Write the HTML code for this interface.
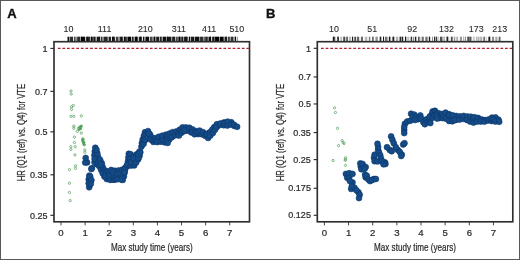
<!DOCTYPE html>
<html><head><meta charset="utf-8"><style>
html,body{margin:0;padding:0;background:#fff;}
svg{display:block;will-change:transform;}
text{font-family:"Liberation Sans",sans-serif;fill:#2a2a2a;stroke:#2a2a2a;stroke-width:0.22px;}
.pl{font-size:13px;font-weight:bold;fill:#111;stroke:#111;stroke-width:0.35px;}
.rl{font-size:8.9px;stroke-width:0.1px;}
.yl{font-size:9px;}
.xl{font-size:9.6px;}
.at{font-size:10.7px;}
</style></head><body>
<svg width="520" height="260" viewBox="0 0 520 260">
<rect x="0" y="0" width="520" height="260" fill="#fff"/>
<rect x="0.5" y="0.5" width="519" height="259" fill="none" stroke="#585858" stroke-width="1"/>
<text x="7.3" y="17.9" class="pl">A</text>
<text x="265.9" y="17.9" class="pl">B</text>
<rect x="67.50" y="36.7" width="1.90" height="4.6" fill="#000" fill-opacity="0.95"/>
<rect x="70.03" y="36.7" width="2.99" height="4.6" fill="#000" fill-opacity="0.83"/>
<rect x="73.91" y="36.7" width="1.78" height="4.6" fill="#000" fill-opacity="0.71"/>
<rect x="76.41" y="36.7" width="3.79" height="4.6" fill="#000" fill-opacity="0.70"/>
<rect x="78.56" y="36.7" width="0.80" height="4.6" fill="#000" fill-opacity="1.00"/>
<rect x="80.81" y="36.7" width="4.34" height="4.6" fill="#000" fill-opacity="0.97"/>
<rect x="80.90" y="36.7" width="0.80" height="4.6" fill="#000" fill-opacity="1.00"/>
<rect x="85.92" y="36.7" width="4.32" height="4.6" fill="#000" fill-opacity="0.81"/>
<rect x="87.40" y="36.7" width="0.80" height="4.6" fill="#000" fill-opacity="1.00"/>
<rect x="90.75" y="36.7" width="2.17" height="4.6" fill="#000" fill-opacity="0.83"/>
<rect x="91.07" y="36.7" width="0.80" height="4.6" fill="#000" fill-opacity="1.00"/>
<rect x="93.53" y="36.7" width="2.16" height="4.6" fill="#000" fill-opacity="0.84"/>
<rect x="93.56" y="36.7" width="0.80" height="4.6" fill="#000" fill-opacity="1.00"/>
<rect x="96.60" y="36.7" width="3.17" height="4.6" fill="#000" fill-opacity="0.89"/>
<rect x="98.96" y="36.7" width="0.80" height="4.6" fill="#000" fill-opacity="1.00"/>
<rect x="100.70" y="36.7" width="1.86" height="4.6" fill="#000" fill-opacity="0.80"/>
<rect x="103.42" y="36.7" width="4.31" height="4.6" fill="#000" fill-opacity="0.83"/>
<rect x="108.57" y="36.7" width="2.41" height="4.6" fill="#000" fill-opacity="0.88"/>
<rect x="111.90" y="36.7" width="3.02" height="4.6" fill="#000" fill-opacity="0.88"/>
<rect x="112.44" y="36.7" width="0.80" height="4.6" fill="#000" fill-opacity="1.00"/>
<rect x="115.81" y="36.7" width="2.74" height="4.6" fill="#000" fill-opacity="0.75"/>
<rect x="119.41" y="36.7" width="3.52" height="4.6" fill="#000" fill-opacity="0.81"/>
<rect x="120.79" y="36.7" width="0.80" height="4.6" fill="#000" fill-opacity="1.00"/>
<rect x="123.82" y="36.7" width="3.06" height="4.6" fill="#000" fill-opacity="0.82"/>
<rect x="123.89" y="36.7" width="0.80" height="4.6" fill="#000" fill-opacity="1.00"/>
<rect x="127.41" y="36.7" width="3.61" height="4.6" fill="#000" fill-opacity="0.99"/>
<rect x="131.71" y="36.7" width="2.01" height="4.6" fill="#000" fill-opacity="0.85"/>
<rect x="134.61" y="36.7" width="3.12" height="4.6" fill="#000" fill-opacity="0.96"/>
<rect x="135.80" y="36.7" width="0.80" height="4.6" fill="#000" fill-opacity="1.00"/>
<rect x="138.70" y="36.7" width="3.23" height="4.6" fill="#000" fill-opacity="0.84"/>
<rect x="140.04" y="36.7" width="0.80" height="4.6" fill="#000" fill-opacity="1.00"/>
<rect x="142.92" y="36.7" width="1.52" height="4.6" fill="#000" fill-opacity="0.94"/>
<rect x="145.38" y="36.7" width="3.72" height="4.6" fill="#000" fill-opacity="0.94"/>
<rect x="149.88" y="36.7" width="2.78" height="4.6" fill="#000" fill-opacity="0.72"/>
<rect x="153.44" y="36.7" width="2.10" height="4.6" fill="#000" fill-opacity="0.85"/>
<rect x="153.91" y="36.7" width="0.80" height="4.6" fill="#000" fill-opacity="1.00"/>
<rect x="156.21" y="36.7" width="3.12" height="4.6" fill="#000" fill-opacity="0.89"/>
<rect x="160.06" y="36.7" width="1.58" height="4.6" fill="#000" fill-opacity="0.77"/>
<rect x="160.52" y="36.7" width="0.80" height="4.6" fill="#000" fill-opacity="1.00"/>
<rect x="162.57" y="36.7" width="3.90" height="4.6" fill="#000" fill-opacity="0.94"/>
<rect x="167.10" y="36.7" width="4.03" height="4.6" fill="#000" fill-opacity="0.90"/>
<rect x="167.15" y="36.7" width="0.80" height="4.6" fill="#000" fill-opacity="1.00"/>
<rect x="171.63" y="36.7" width="3.77" height="4.6" fill="#000" fill-opacity="0.77"/>
<rect x="173.48" y="36.7" width="0.80" height="4.6" fill="#000" fill-opacity="1.00"/>
<rect x="176.07" y="36.7" width="1.71" height="4.6" fill="#000" fill-opacity="0.75"/>
<rect x="178.36" y="36.7" width="2.32" height="4.6" fill="#000" fill-opacity="0.91"/>
<rect x="178.85" y="36.7" width="0.80" height="4.6" fill="#000" fill-opacity="1.00"/>
<rect x="181.42" y="36.7" width="1.57" height="4.6" fill="#000" fill-opacity="0.82"/>
<rect x="181.56" y="36.7" width="0.80" height="4.6" fill="#000" fill-opacity="1.00"/>
<rect x="183.54" y="36.7" width="4.20" height="4.6" fill="#000" fill-opacity="0.85"/>
<rect x="185.60" y="36.7" width="0.80" height="4.6" fill="#000" fill-opacity="1.00"/>
<rect x="188.65" y="36.7" width="1.56" height="4.6" fill="#000" fill-opacity="0.71"/>
<rect x="189.20" y="36.7" width="0.80" height="4.6" fill="#000" fill-opacity="1.00"/>
<rect x="190.79" y="36.7" width="3.61" height="4.6" fill="#000" fill-opacity="0.90"/>
<rect x="195.02" y="36.7" width="4.43" height="4.6" fill="#000" fill-opacity="0.94"/>
<rect x="200.05" y="36.7" width="3.45" height="4.6" fill="#000" fill-opacity="0.82"/>
<rect x="204.16" y="36.7" width="3.39" height="4.6" fill="#000" fill-opacity="0.72"/>
<rect x="206.67" y="36.7" width="0.80" height="4.6" fill="#000" fill-opacity="1.00"/>
<rect x="208.49" y="36.7" width="2.42" height="4.6" fill="#000" fill-opacity="0.96"/>
<rect x="210.01" y="36.7" width="0.80" height="4.6" fill="#000" fill-opacity="1.00"/>
<rect x="211.78" y="36.7" width="2.75" height="4.6" fill="#000" fill-opacity="0.78"/>
<rect x="213.49" y="36.7" width="0.80" height="4.6" fill="#000" fill-opacity="1.00"/>
<rect x="215.05" y="36.7" width="3.96" height="4.6" fill="#000" fill-opacity="0.99"/>
<rect x="219.59" y="36.7" width="4.10" height="4.6" fill="#000" fill-opacity="0.99"/>
<rect x="224.45" y="36.7" width="2.63" height="4.6" fill="#000" fill-opacity="0.80"/>
<rect x="225.69" y="36.7" width="0.80" height="4.6" fill="#000" fill-opacity="1.00"/>
<rect x="227.80" y="36.7" width="2.08" height="4.6" fill="#000" fill-opacity="0.73"/>
<rect x="230.53" y="36.7" width="3.00" height="4.6" fill="#000" fill-opacity="0.80"/>
<rect x="234.48" y="36.7" width="1.55" height="4.6" fill="#000" fill-opacity="0.76"/>
<rect x="235.23" y="36.7" width="0.80" height="4.6" fill="#000" fill-opacity="1.00"/>
<rect x="236.93" y="36.7" width="0.57" height="4.6" fill="#000" fill-opacity="0.76"/>
<text x="68.4" y="31.5" class="rl" text-anchor="middle">10</text>
<text x="104.6" y="31.5" class="rl" text-anchor="middle">111</text>
<text x="145.3" y="31.5" class="rl" text-anchor="middle">210</text>
<text x="178.9" y="31.5" class="rl" text-anchor="middle">311</text>
<text x="209.2" y="31.5" class="rl" text-anchor="middle">411</text>
<text x="236.8" y="31.5" class="rl" text-anchor="middle">510</text>
<path d="M246.45 48.4H248.80M241.85 48.4H244.55M237.25 48.4H239.95M232.65 48.4H235.35M228.05 48.4H230.75M223.45 48.4H226.15M218.85 48.4H221.55M214.25 48.4H216.95M209.65 48.4H212.35M205.05 48.4H207.75M200.45 48.4H203.15M195.85 48.4H198.55M191.25 48.4H193.95M186.65 48.4H189.35M182.05 48.4H184.75M177.45 48.4H180.15M172.85 48.4H175.55M168.25 48.4H170.95M163.65 48.4H166.35M159.05 48.4H161.75M154.45 48.4H157.15M149.85 48.4H152.55M145.25 48.4H147.95M140.65 48.4H143.35M136.05 48.4H138.75M131.45 48.4H134.15M126.85 48.4H129.55M122.25 48.4H124.95M117.65 48.4H120.35M113.05 48.4H115.75M108.45 48.4H111.15M103.85 48.4H106.55M99.25 48.4H101.95M94.65 48.4H97.35M90.05 48.4H92.75M85.45 48.4H88.15M80.85 48.4H83.55M76.25 48.4H78.95M71.65 48.4H74.35M67.05 48.4H69.75M62.45 48.4H65.15M57.85 48.4H60.55" stroke="#b01e2e" stroke-width="1.15" fill="none"/>
<line x1="50.4" y1="48.40" x2="54.0" y2="48.40" stroke="#222" stroke-width="1.1"/>
<text x="47.6" y="51.60" class="yl" text-anchor="end">1</text>
<line x1="50.4" y1="91.34" x2="54.0" y2="91.34" stroke="#222" stroke-width="1.1"/>
<text x="47.6" y="94.54" class="yl" text-anchor="end">0.7</text>
<line x1="50.4" y1="131.85" x2="54.0" y2="131.85" stroke="#222" stroke-width="1.1"/>
<text x="47.6" y="135.05" class="yl" text-anchor="end">0.5</text>
<line x1="50.4" y1="174.80" x2="54.0" y2="174.80" stroke="#222" stroke-width="1.1"/>
<text x="47.6" y="178.00" class="yl" text-anchor="end">0.35</text>
<line x1="50.4" y1="215.31" x2="54.0" y2="215.31" stroke="#222" stroke-width="1.1"/>
<text x="47.6" y="218.51" class="yl" text-anchor="end">0.25</text>
<line x1="61.00" y1="221.8" x2="61.00" y2="225.4" stroke="#333" stroke-width="0.9"/>
<text x="61.00" y="236.1" class="xl" text-anchor="middle">0</text>
<line x1="85.10" y1="221.8" x2="85.10" y2="225.4" stroke="#333" stroke-width="0.9"/>
<text x="85.10" y="236.1" class="xl" text-anchor="middle">1</text>
<line x1="109.20" y1="221.8" x2="109.20" y2="225.4" stroke="#333" stroke-width="0.9"/>
<text x="109.20" y="236.1" class="xl" text-anchor="middle">2</text>
<line x1="133.30" y1="221.8" x2="133.30" y2="225.4" stroke="#333" stroke-width="0.9"/>
<text x="133.30" y="236.1" class="xl" text-anchor="middle">3</text>
<line x1="157.40" y1="221.8" x2="157.40" y2="225.4" stroke="#333" stroke-width="0.9"/>
<text x="157.40" y="236.1" class="xl" text-anchor="middle">4</text>
<line x1="181.50" y1="221.8" x2="181.50" y2="225.4" stroke="#333" stroke-width="0.9"/>
<text x="181.50" y="236.1" class="xl" text-anchor="middle">5</text>
<line x1="205.60" y1="221.8" x2="205.60" y2="225.4" stroke="#333" stroke-width="0.9"/>
<text x="205.60" y="236.1" class="xl" text-anchor="middle">6</text>
<line x1="229.70" y1="221.8" x2="229.70" y2="225.4" stroke="#333" stroke-width="0.9"/>
<text x="229.70" y="236.1" class="xl" text-anchor="middle">7</text>
<rect x="54.0" y="41.7" width="195.5" height="180.10000000000002" fill="none" stroke="#2e2e2e" stroke-width="1.65"/>
<text x="151.8" y="250.9" class="at" text-anchor="middle" textLength="81.8" lengthAdjust="spacingAndGlyphs">Max study time (years)</text>
<text transform="translate(24.7,132.6) rotate(-90)" x="0" y="0" class="at" text-anchor="middle" textLength="97.4" lengthAdjust="spacingAndGlyphs">HR (Q1 (ref) vs. Q4) for VTE</text>
<rect x="332.80" y="36.7" width="2.52" height="4.6" fill="#000" fill-opacity="0.67"/>
<rect x="332.95" y="36.7" width="0.80" height="4.6" fill="#000" fill-opacity="1.00"/>
<rect x="336.92" y="36.7" width="2.10" height="4.6" fill="#000" fill-opacity="0.53"/>
<rect x="337.71" y="36.7" width="0.80" height="4.6" fill="#000" fill-opacity="1.00"/>
<rect x="340.35" y="36.7" width="1.80" height="4.6" fill="#000" fill-opacity="0.28"/>
<rect x="343.22" y="36.7" width="2.07" height="4.6" fill="#000" fill-opacity="0.70"/>
<rect x="346.55" y="36.7" width="1.55" height="4.6" fill="#000" fill-opacity="0.33"/>
<rect x="346.57" y="36.7" width="0.80" height="4.6" fill="#000" fill-opacity="1.00"/>
<rect x="349.25" y="36.7" width="1.31" height="4.6" fill="#000" fill-opacity="0.39"/>
<rect x="351.79" y="36.7" width="1.76" height="4.6" fill="#000" fill-opacity="0.32"/>
<rect x="352.10" y="36.7" width="0.80" height="4.6" fill="#000" fill-opacity="1.00"/>
<rect x="354.32" y="36.7" width="1.67" height="4.6" fill="#000" fill-opacity="0.70"/>
<rect x="356.80" y="36.7" width="2.40" height="4.6" fill="#000" fill-opacity="0.60"/>
<rect x="360.89" y="36.7" width="2.15" height="4.6" fill="#000" fill-opacity="0.59"/>
<rect x="364.82" y="36.7" width="2.53" height="4.6" fill="#000" fill-opacity="0.28"/>
<rect x="368.80" y="36.7" width="1.58" height="4.6" fill="#000" fill-opacity="0.47"/>
<rect x="372.09" y="36.7" width="1.65" height="4.6" fill="#000" fill-opacity="0.62"/>
<rect x="375.40" y="36.7" width="2.41" height="4.6" fill="#000" fill-opacity="0.43"/>
<rect x="379.51" y="36.7" width="2.08" height="4.6" fill="#000" fill-opacity="0.44"/>
<rect x="379.93" y="36.7" width="0.80" height="4.6" fill="#000" fill-opacity="1.00"/>
<rect x="383.03" y="36.7" width="1.02" height="4.6" fill="#000" fill-opacity="0.65"/>
<rect x="383.23" y="36.7" width="0.80" height="4.6" fill="#000" fill-opacity="1.00"/>
<rect x="385.02" y="36.7" width="2.52" height="4.6" fill="#000" fill-opacity="0.55"/>
<rect x="388.76" y="36.7" width="1.94" height="4.6" fill="#000" fill-opacity="0.49"/>
<rect x="388.99" y="36.7" width="0.80" height="4.6" fill="#000" fill-opacity="1.00"/>
<rect x="391.91" y="36.7" width="2.47" height="4.6" fill="#000" fill-opacity="0.51"/>
<rect x="393.28" y="36.7" width="0.80" height="4.6" fill="#000" fill-opacity="1.00"/>
<rect x="395.85" y="36.7" width="2.42" height="4.6" fill="#000" fill-opacity="0.30"/>
<rect x="398.95" y="36.7" width="1.94" height="4.6" fill="#000" fill-opacity="0.34"/>
<rect x="399.95" y="36.7" width="0.80" height="4.6" fill="#000" fill-opacity="1.00"/>
<rect x="401.62" y="36.7" width="1.69" height="4.6" fill="#000" fill-opacity="0.63"/>
<rect x="401.80" y="36.7" width="0.80" height="4.6" fill="#000" fill-opacity="1.00"/>
<rect x="404.97" y="36.7" width="1.50" height="4.6" fill="#000" fill-opacity="0.56"/>
<rect x="405.22" y="36.7" width="0.80" height="4.6" fill="#000" fill-opacity="1.00"/>
<rect x="407.28" y="36.7" width="1.98" height="4.6" fill="#000" fill-opacity="0.24"/>
<rect x="409.88" y="36.7" width="2.09" height="4.6" fill="#000" fill-opacity="0.21"/>
<rect x="410.93" y="36.7" width="0.80" height="4.6" fill="#000" fill-opacity="1.00"/>
<rect x="412.76" y="36.7" width="1.05" height="4.6" fill="#000" fill-opacity="0.55"/>
<rect x="414.46" y="36.7" width="2.58" height="4.6" fill="#000" fill-opacity="0.28"/>
<rect x="415.07" y="36.7" width="0.80" height="4.6" fill="#000" fill-opacity="1.00"/>
<rect x="418.38" y="36.7" width="2.11" height="4.6" fill="#000" fill-opacity="0.26"/>
<rect x="418.42" y="36.7" width="0.80" height="4.6" fill="#000" fill-opacity="1.00"/>
<rect x="421.63" y="36.7" width="2.16" height="4.6" fill="#000" fill-opacity="0.57"/>
<rect x="425.29" y="36.7" width="2.34" height="4.6" fill="#000" fill-opacity="0.55"/>
<rect x="428.50" y="36.7" width="1.96" height="4.6" fill="#000" fill-opacity="0.36"/>
<rect x="429.02" y="36.7" width="0.80" height="4.6" fill="#000" fill-opacity="1.00"/>
<rect x="432.11" y="36.7" width="0.94" height="4.6" fill="#000" fill-opacity="0.49"/>
<rect x="434.27" y="36.7" width="0.97" height="4.6" fill="#000" fill-opacity="0.68"/>
<rect x="434.37" y="36.7" width="0.80" height="4.6" fill="#000" fill-opacity="1.00"/>
<rect x="436.34" y="36.7" width="0.73" height="4.6" fill="#000" fill-opacity="0.48"/>
<rect x="436.34" y="36.7" width="0.73" height="4.6" fill="#000" fill-opacity="1.00"/>
<rect x="437.72" y="36.7" width="1.01" height="4.6" fill="#000" fill-opacity="0.25"/>
<rect x="439.93" y="36.7" width="2.57" height="4.6" fill="#000" fill-opacity="0.67"/>
<rect x="443.38" y="36.7" width="1.54" height="4.6" fill="#000" fill-opacity="0.33"/>
<rect x="446.27" y="36.7" width="2.22" height="4.6" fill="#000" fill-opacity="0.55"/>
<rect x="446.88" y="36.7" width="0.80" height="4.6" fill="#000" fill-opacity="1.00"/>
<rect x="449.73" y="36.7" width="0.71" height="4.6" fill="#000" fill-opacity="0.22"/>
<rect x="451.17" y="36.7" width="2.08" height="4.6" fill="#000" fill-opacity="0.32"/>
<rect x="451.40" y="36.7" width="0.80" height="4.6" fill="#000" fill-opacity="1.00"/>
<rect x="454.12" y="36.7" width="1.11" height="4.6" fill="#000" fill-opacity="0.46"/>
<rect x="456.21" y="36.7" width="1.92" height="4.6" fill="#000" fill-opacity="0.31"/>
<rect x="459.88" y="36.7" width="2.08" height="4.6" fill="#000" fill-opacity="0.42"/>
<rect x="463.26" y="36.7" width="0.80" height="4.6" fill="#000" fill-opacity="0.41"/>
<rect x="464.88" y="36.7" width="0.88" height="4.6" fill="#000" fill-opacity="0.60"/>
<rect x="466.98" y="36.7" width="2.45" height="4.6" fill="#000" fill-opacity="0.51"/>
<rect x="468.60" y="36.7" width="0.80" height="4.6" fill="#000" fill-opacity="1.00"/>
<rect x="470.48" y="36.7" width="0.74" height="4.6" fill="#000" fill-opacity="0.54"/>
<rect x="470.48" y="36.7" width="0.74" height="4.6" fill="#000" fill-opacity="1.00"/>
<rect x="472.82" y="36.7" width="1.98" height="4.6" fill="#000" fill-opacity="0.21"/>
<rect x="475.89" y="36.7" width="1.62" height="4.6" fill="#000" fill-opacity="0.30"/>
<rect x="478.20" y="36.7" width="1.24" height="4.6" fill="#000" fill-opacity="0.39"/>
<rect x="480.14" y="36.7" width="2.13" height="4.6" fill="#000" fill-opacity="0.30"/>
<rect x="483.34" y="36.7" width="1.58" height="4.6" fill="#000" fill-opacity="0.58"/>
<rect x="485.67" y="36.7" width="0.93" height="4.6" fill="#000" fill-opacity="0.24"/>
<rect x="487.97" y="36.7" width="2.52" height="4.6" fill="#000" fill-opacity="0.55"/>
<rect x="489.10" y="36.7" width="0.80" height="4.6" fill="#000" fill-opacity="1.00"/>
<rect x="492.02" y="36.7" width="2.07" height="4.6" fill="#000" fill-opacity="0.45"/>
<rect x="495.25" y="36.7" width="2.22" height="4.6" fill="#000" fill-opacity="0.33"/>
<rect x="498.64" y="36.7" width="1.86" height="4.6" fill="#000" fill-opacity="0.60"/>
<text x="334" y="31.5" class="rl" text-anchor="middle">10</text>
<text x="372.3" y="31.5" class="rl" text-anchor="middle">51</text>
<text x="412.3" y="31.5" class="rl" text-anchor="middle">92</text>
<text x="446.5" y="31.5" class="rl" text-anchor="middle">132</text>
<text x="476.2" y="31.5" class="rl" text-anchor="middle">173</text>
<text x="499.7" y="31.5" class="rl" text-anchor="middle">213</text>
<path d="M509.65 48.3H512.10M505.05 48.3H507.75M500.45 48.3H503.15M495.85 48.3H498.55M491.25 48.3H493.95M486.65 48.3H489.35M482.05 48.3H484.75M477.45 48.3H480.15M472.85 48.3H475.55M468.25 48.3H470.95M463.65 48.3H466.35M459.05 48.3H461.75M454.45 48.3H457.15M449.85 48.3H452.55M445.25 48.3H447.95M440.65 48.3H443.35M436.05 48.3H438.75M431.45 48.3H434.15M426.85 48.3H429.55M422.25 48.3H424.95M417.65 48.3H420.35M413.05 48.3H415.75M408.45 48.3H411.15M403.85 48.3H406.55M399.25 48.3H401.95M394.65 48.3H397.35M390.05 48.3H392.75M385.45 48.3H388.15M380.85 48.3H383.55M376.25 48.3H378.95M371.65 48.3H374.35M367.05 48.3H369.75M362.45 48.3H365.15M357.85 48.3H360.55M353.25 48.3H355.95M348.65 48.3H351.35M344.05 48.3H346.75M339.45 48.3H342.15M334.85 48.3H337.55M330.25 48.3H332.95M325.65 48.3H328.35M321.05 48.3H323.75" stroke="#b01e2e" stroke-width="1.15" fill="none"/>
<line x1="313.7" y1="48.30" x2="317.3" y2="48.30" stroke="#222" stroke-width="1.1"/>
<text x="310.90000000000003" y="51.50" class="yl" text-anchor="end">1</text>
<line x1="313.7" y1="76.94" x2="317.3" y2="76.94" stroke="#222" stroke-width="1.1"/>
<text x="310.90000000000003" y="80.14" class="yl" text-anchor="end">0.7</text>
<line x1="313.7" y1="103.96" x2="317.3" y2="103.96" stroke="#222" stroke-width="1.1"/>
<text x="310.90000000000003" y="107.16" class="yl" text-anchor="end">0.5</text>
<line x1="313.7" y1="132.60" x2="317.3" y2="132.60" stroke="#222" stroke-width="1.1"/>
<text x="310.90000000000003" y="135.80" class="yl" text-anchor="end">0.35</text>
<line x1="313.7" y1="159.62" x2="317.3" y2="159.62" stroke="#222" stroke-width="1.1"/>
<text x="310.90000000000003" y="162.82" class="yl" text-anchor="end">0.25</text>
<line x1="313.7" y1="188.26" x2="317.3" y2="188.26" stroke="#222" stroke-width="1.1"/>
<text x="310.90000000000003" y="191.46" class="yl" text-anchor="end">0.175</text>
<line x1="313.7" y1="215.28" x2="317.3" y2="215.28" stroke="#222" stroke-width="1.1"/>
<text x="310.90000000000003" y="218.48" class="yl" text-anchor="end">0.125</text>
<line x1="324.40" y1="221.8" x2="324.40" y2="225.4" stroke="#333" stroke-width="0.9"/>
<text x="324.40" y="236.1" class="xl" text-anchor="middle">0</text>
<line x1="348.55" y1="221.8" x2="348.55" y2="225.4" stroke="#333" stroke-width="0.9"/>
<text x="348.55" y="236.1" class="xl" text-anchor="middle">1</text>
<line x1="372.70" y1="221.8" x2="372.70" y2="225.4" stroke="#333" stroke-width="0.9"/>
<text x="372.70" y="236.1" class="xl" text-anchor="middle">2</text>
<line x1="396.85" y1="221.8" x2="396.85" y2="225.4" stroke="#333" stroke-width="0.9"/>
<text x="396.85" y="236.1" class="xl" text-anchor="middle">3</text>
<line x1="421.00" y1="221.8" x2="421.00" y2="225.4" stroke="#333" stroke-width="0.9"/>
<text x="421.00" y="236.1" class="xl" text-anchor="middle">4</text>
<line x1="445.15" y1="221.8" x2="445.15" y2="225.4" stroke="#333" stroke-width="0.9"/>
<text x="445.15" y="236.1" class="xl" text-anchor="middle">5</text>
<line x1="469.30" y1="221.8" x2="469.30" y2="225.4" stroke="#333" stroke-width="0.9"/>
<text x="469.30" y="236.1" class="xl" text-anchor="middle">6</text>
<line x1="493.45" y1="221.8" x2="493.45" y2="225.4" stroke="#333" stroke-width="0.9"/>
<text x="493.45" y="236.1" class="xl" text-anchor="middle">7</text>
<rect x="317.3" y="41.7" width="195.49999999999994" height="180.10000000000002" fill="none" stroke="#2e2e2e" stroke-width="1.65"/>
<text x="415.0" y="250.9" class="at" text-anchor="middle" textLength="81.8" lengthAdjust="spacingAndGlyphs">Max study time (years)</text>
<text transform="translate(283.8,132.6) rotate(-90)" x="0" y="0" class="at" text-anchor="middle" textLength="97.4" lengthAdjust="spacingAndGlyphs">HR (Q1 (ref) vs. Q4) for VTE</text>
<g fill="#3f9f4a" fill-opacity="0.85"><circle cx="79.6" cy="127.6" r="1.45"/><circle cx="80.6" cy="128.8" r="1.45"/><circle cx="81.0" cy="126.4" r="1.45"/><circle cx="79.2" cy="129.6" r="1.45"/><circle cx="82.9" cy="141.2" r="1.45"/><circle cx="83.6" cy="143.0" r="1.45"/><circle cx="84.1" cy="144.6" r="1.45"/><circle cx="82.6" cy="140.0" r="1.45"/></g>
<g fill="none" stroke="#58a05e" stroke-width="0.75"><circle cx="71.0" cy="91.0" r="1.15"/><circle cx="71.2" cy="94.0" r="1.15"/><circle cx="73.3" cy="105.5" r="1.15"/><circle cx="71.5" cy="106.9" r="1.15"/><circle cx="71.5" cy="109.5" r="1.15"/><circle cx="71.0" cy="116.3" r="1.15"/><circle cx="73.8" cy="116.3" r="1.15"/><circle cx="81.3" cy="115.8" r="1.15"/><circle cx="73.8" cy="126.1" r="1.15"/><circle cx="73.8" cy="128.2" r="1.15"/><circle cx="78.5" cy="128.5" r="1.15"/><circle cx="79.6" cy="127.3" r="1.15"/><circle cx="81.3" cy="126.1" r="1.15"/><circle cx="77.3" cy="131.3" r="1.15"/><circle cx="81.3" cy="133.1" r="1.15"/><circle cx="74.4" cy="137.1" r="1.15"/><circle cx="83.0" cy="138.8" r="1.15"/><circle cx="74.4" cy="142.5" r="1.15"/><circle cx="70.8" cy="146.7" r="1.15"/><circle cx="70.8" cy="149.5" r="1.15"/><circle cx="75.2" cy="146.7" r="1.15"/><circle cx="74.9" cy="154.9" r="1.15"/><circle cx="83.0" cy="139.6" r="1.15"/><circle cx="83.6" cy="142.5" r="1.15"/><circle cx="84.2" cy="144.8" r="1.15"/><circle cx="84.8" cy="150.0" r="1.15"/><circle cx="84.8" cy="152.3" r="1.15"/><circle cx="69.4" cy="169.6" r="1.15"/><circle cx="75.5" cy="165.8" r="1.15"/><circle cx="75.5" cy="168.4" r="1.15"/><circle cx="69.4" cy="183.2" r="1.15"/><circle cx="69.4" cy="192.5" r="1.15"/><circle cx="70.2" cy="200.6" r="1.15"/><circle cx="83.8" cy="142.4" r="1.15"/><circle cx="334.5" cy="107.8" r="1.15"/><circle cx="335.4" cy="112.5" r="1.15"/><circle cx="337.5" cy="128.3" r="1.15"/><circle cx="342.1" cy="140.6" r="1.15"/><circle cx="343.2" cy="142.5" r="1.15"/><circle cx="344.0" cy="143.6" r="1.15"/><circle cx="338.6" cy="145.6" r="1.15"/><circle cx="345.5" cy="157.7" r="1.15"/><circle cx="345.5" cy="159.4" r="1.15"/><circle cx="333.1" cy="160.5" r="1.15"/><circle cx="345.2" cy="160.2" r="1.15"/><circle cx="345.5" cy="165.4" r="1.15"/></g>
<path fill="#154c88" d="M85.8 159.1 L85.6 161.7 L85.9 163.4 L86.1 163.7 L86.5 162.5 L86.5 160.7 L85.9 159.1 L85.8 159.1ZM89.4 185.0 L89.7 184.4 L89.7 184.4 L89.8 184.1 L89.8 184.1 L90.0 183.8 L90.0 183.8 L91.3 181.8 L89.6 176.6 L89.1 181.1 L89.4 185.0ZM142.3 144.6 L143.0 143.7 L143.8 141.6 L144.4 139.8 L144.4 139.8 L144.5 139.5 L144.5 139.5 L144.6 139.2 L144.7 139.1 L144.8 138.9 L144.9 138.8 L145.0 138.6 L145.1 138.6 L145.3 138.3 L145.3 138.3 L145.5 138.1 L145.6 138.1 L145.8 137.9 L145.9 137.9 L146.1 137.7 L146.2 137.7 L146.5 137.6 L146.5 137.5 L146.8 137.4 L146.8 137.4 L147.1 137.4 L147.2 137.4 L147.5 137.3 L147.5 137.3 L147.8 137.3 L147.9 137.3 L148.2 137.3 L148.3 137.3 L148.6 137.4 L148.6 137.4 L148.9 137.5 L149.0 137.5 L149.2 137.6 L149.3 137.6 L149.5 137.8 L149.6 137.8 L149.9 137.9 L149.9 138.0 L150.1 138.2 L150.2 138.2 L150.4 138.4 L150.4 138.4 L152.1 140.3 L153.2 141.3 L154.5 141.5 L157.7 141.5 L161.1 141.0 L161.1 141.0 L161.4 141.0 L161.5 141.0 L161.8 141.0 L161.9 141.0 L162.1 141.0 L162.2 141.1 L162.5 141.1 L162.5 141.1 L164.4 141.6 L164.4 141.6 L164.7 141.7 L164.8 141.7 L165.0 141.8 L165.1 141.9 L165.3 142.0 L165.4 142.0 L166.8 142.9 L167.2 142.4 L167.9 140.5 L167.9 140.5 L168.1 140.2 L168.1 140.2 L168.2 139.9 L168.3 139.9 L168.4 139.6 L168.5 139.6 L169.9 137.8 L169.9 137.8 L170.1 137.5 L170.1 137.5 L170.4 137.3 L170.4 137.2 L170.7 137.0 L170.7 137.0 L171.0 136.8 L171.1 136.8 L171.4 136.7 L171.4 136.6 L173.2 136.0 L173.8 135.4 L173.8 135.4 L174.1 135.2 L174.1 135.2 L174.4 135.0 L174.4 135.0 L174.7 134.9 L174.8 134.9 L175.0 134.8 L175.1 134.7 L175.4 134.7 L175.4 134.7 L175.7 134.6 L175.8 134.6 L176.1 134.6 L176.2 134.6 L176.4 134.6 L176.5 134.6 L176.8 134.7 L176.8 134.7 L178.5 135.0 L179.0 134.7 L181.5 131.9 L181.5 131.8 L181.7 131.6 L181.7 131.6 L182.0 131.4 L182.0 131.4 L182.2 131.2 L182.3 131.1 L182.6 131.0 L182.6 131.0 L182.9 130.9 L182.9 130.8 L183.2 130.7 L183.3 130.7 L183.6 130.7 L183.6 130.7 L187.1 130.1 L187.1 130.0 L187.4 130.0 L187.5 130.0 L187.8 130.0 L187.8 130.0 L188.2 130.0 L188.2 130.0 L188.5 130.1 L188.6 130.1 L188.9 130.2 L188.9 130.2 L189.2 130.3 L189.3 130.4 L189.5 130.5 L189.6 130.5 L189.8 130.7 L189.9 130.7 L190.1 130.9 L190.2 131.0 L190.4 131.2 L190.4 131.2 L190.6 131.5 L190.6 131.5 L190.7 131.6 L192.6 132.2 L192.6 132.2 L192.9 132.3 L192.9 132.3 L193.2 132.4 L193.2 132.4 L193.4 132.6 L193.5 132.6 L193.7 132.7 L193.7 132.8 L195.4 134.0 L196.3 134.2 L198.1 133.5 L198.1 133.5 L198.4 133.4 L198.5 133.4 L198.7 133.3 L198.8 133.3 L199.1 133.2 L199.2 133.2 L199.5 133.2 L199.5 133.2 L199.8 133.2 L199.9 133.2 L200.2 133.3 L200.2 133.3 L203.1 133.9 L203.2 133.9 L203.4 134.0 L203.5 134.0 L203.7 134.1 L203.8 134.1 L204.0 134.2 L204.1 134.2 L204.3 134.4 L204.4 134.4 L204.6 134.6 L204.6 134.6 L207.3 136.7 L208.5 137.4 L209.8 135.4 L209.8 135.4 L210.0 135.1 L210.0 135.1 L210.2 134.9 L210.3 134.9 L212.3 132.8 L214.4 129.6 L216.6 126.2 L216.6 126.2 L216.8 126.0 L216.8 126.0 L217.0 125.7 L217.0 125.7 L217.2 125.5 L217.3 125.5 L217.5 125.3 L217.5 125.3 L217.7 125.1 L217.8 125.1 L218.0 125.0 L218.1 124.9 L218.3 124.8 L218.4 124.8 L218.7 124.7 L218.7 124.7 L221.0 124.1 L221.0 124.1 L221.3 124.0 L221.4 124.0 L221.7 124.0 L221.8 124.0 L222.1 124.0 L222.1 124.0 L222.5 124.0 L222.5 124.1 L222.8 124.1 L222.9 124.1 L223.2 124.2 L223.3 124.3 L223.5 124.4 L223.6 124.4 L225.1 125.2 L226.0 125.2 L227.9 124.7 L230.2 124.1 L230.2 124.1 L230.5 124.0 L230.6 124.0 L230.9 124.0 L231.0 124.0 L231.3 124.0 L231.3 124.0 L231.6 124.0 L231.7 124.0 L232.0 124.1 L232.0 124.1 L232.3 124.2 L232.4 124.2 L232.7 124.4 L232.7 124.4 L232.8 124.4 L231.8 123.1 L230.2 122.5 L227.7 122.2 L225.2 122.5 L223.5 123.3 L223.4 123.4 L223.2 123.5 L223.1 123.5 L222.9 123.6 L222.8 123.6 L222.6 123.6 L222.5 123.6 L219.1 124.2 L217.4 124.5 L216.1 125.9 L213.9 128.6 L211.6 131.5 L211.6 131.6 L211.4 131.8 L211.4 131.8 L211.2 132.0 L211.2 132.0 L211.0 132.2 L210.9 132.2 L208.6 133.9 L208.6 133.9 L208.4 134.1 L208.3 134.1 L208.1 134.2 L208.0 134.3 L207.8 134.4 L207.7 134.4 L207.4 134.5 L207.4 134.5 L207.1 134.6 L207.0 134.6 L206.7 134.6 L206.7 134.6 L206.4 134.6 L206.3 134.6 L206.0 134.6 L206.0 134.6 L205.7 134.5 L205.6 134.5 L205.4 134.4 L205.3 134.4 L205.0 134.3 L205.0 134.3 L204.7 134.1 L204.7 134.1 L204.4 134.0 L204.4 133.9 L202.1 132.3 L200.3 131.2 L198.8 131.2 L196.9 131.6 L196.8 131.6 L196.6 131.7 L196.5 131.7 L196.2 131.7 L196.2 131.7 L195.9 131.7 L195.8 131.7 L195.6 131.7 L195.5 131.7 L195.2 131.6 L195.2 131.6 L194.9 131.5 L194.9 131.5 L194.6 131.4 L194.6 131.3 L194.3 131.2 L194.3 131.2 L191.4 129.5 L191.4 129.5 L191.1 129.3 L191.1 129.3 L189.8 128.4 L187.9 128.5 L187.9 128.5 L187.6 128.5 L187.5 128.5 L187.2 128.5 L187.1 128.5 L186.8 128.4 L186.8 128.4 L186.5 128.3 L186.4 128.3 L183.7 127.2 L183.6 127.2 L181.5 129.2 L181.5 129.3 L181.3 129.4 L181.3 129.5 L181.1 129.6 L181.1 129.7 L180.8 129.8 L180.8 129.8 L177.9 131.5 L177.9 131.5 L177.6 131.7 L177.6 131.7 L177.3 131.8 L177.3 131.8 L177.0 131.9 L176.9 131.9 L176.7 132.0 L176.6 132.0 L173.5 132.4 L171.5 133.1 L169.3 134.6 L169.2 134.7 L169.0 134.8 L168.9 134.9 L168.7 135.0 L168.6 135.0 L168.3 135.1 L168.3 135.1 L168.0 135.2 L167.9 135.2 L167.6 135.3 L167.5 135.3 L167.2 135.3 L167.2 135.3 L165.1 135.3 L163.4 136.0 L163.4 136.0 L163.1 136.1 L163.1 136.1 L160.1 136.9 L157.9 137.8 L157.9 137.8 L157.8 137.9 L157.8 137.9 L155.5 138.8 L155.5 138.8 L155.2 138.9 L155.1 138.9 L154.9 138.9 L154.8 138.9 L154.5 139.0 L154.5 139.0 L154.2 139.0 L154.1 139.0 L153.8 139.0 L153.8 139.0 L153.5 138.9 L153.4 138.9 L153.1 138.8 L153.1 138.8 L152.8 138.7 L152.7 138.7 L152.5 138.6 L152.4 138.5 L152.2 138.4 L152.1 138.3 L151.9 138.2 L151.8 138.1 L151.6 137.9 L151.6 137.9 L151.4 137.7 L151.4 137.6 L151.2 137.4 L151.2 137.3 L149.4 134.5 L149.4 134.5 L149.2 134.3 L149.2 134.3 L149.1 134.1 L149.1 134.0 L148.3 132.2 L147.7 131.6 L147.1 131.5 L146.1 131.6 L145.8 132.0 L144.9 134.6 L144.9 134.6 L144.9 134.7 L144.9 134.7 L143.7 138.1 L142.7 141.3 L142.3 144.6ZM95.8 149.0 L95.4 151.9 L94.9 156.2 L95.4 160.4 L95.4 160.4 L95.4 160.8 L95.4 160.9 L95.4 161.2 L95.4 161.2 L95.1 163.5 L95.4 163.8 L96.2 163.7 L96.2 163.7 L96.5 163.7 L96.6 163.7 L96.9 163.7 L97.0 163.7 L97.2 163.8 L97.3 163.8 L97.6 163.9 L97.6 163.9 L97.9 164.0 L98.0 164.0 L98.2 164.2 L98.3 164.2 L98.5 164.3 L98.6 164.4 L98.8 164.6 L98.9 164.6 L99.1 164.8 L99.1 164.8 L99.3 165.1 L99.4 165.1 L99.5 165.4 L99.6 165.4 L99.7 165.7 L99.7 165.7 L105.4 177.1 L106.0 178.0 L107.1 178.6 L109.8 179.1 L109.8 179.1 L110.0 179.1 L110.0 179.1 L111.7 179.5 L114.6 179.1 L118.5 178.3 L118.5 178.3 L118.8 178.2 L118.9 178.2 L119.2 178.2 L119.2 178.2 L119.5 178.2 L119.6 178.2 L119.9 178.3 L119.9 178.3 L120.2 178.3 L120.2 178.4 L120.5 178.5 L120.6 178.5 L120.8 178.6 L120.9 178.6 L121.1 178.8 L121.2 178.8 L121.4 179.0 L121.5 179.0 L121.7 179.2 L121.7 179.2 L121.9 179.5 L122.0 179.5 L122.1 179.7 L122.1 179.7 L122.7 178.1 L123.7 175.1 L124.0 170.8 L124.0 170.7 L124.0 170.5 L124.0 170.4 L124.1 170.2 L124.1 170.1 L124.2 169.9 L124.2 169.8 L124.3 169.6 L124.3 169.5 L124.4 169.3 L124.5 169.2 L124.6 169.0 L123.4 169.8 L123.4 169.9 L123.1 170.0 L123.1 170.0 L122.8 170.2 L122.8 170.2 L122.5 170.3 L122.4 170.3 L122.2 170.4 L122.1 170.4 L121.8 170.5 L121.8 170.5 L121.5 170.5 L121.4 170.5 L121.1 170.5 L121.1 170.5 L120.8 170.5 L120.7 170.5 L120.5 170.4 L120.4 170.4 L120.4 170.4 L119.1 170.9 L119.1 170.9 L118.8 171.0 L118.7 171.1 L118.4 171.1 L118.3 171.1 L118.0 171.2 L118.0 171.2 L115.5 171.4 L115.5 171.4 L115.1 171.4 L115.1 171.4 L114.7 171.4 L114.7 171.4 L114.4 171.3 L114.3 171.3 L112.1 170.7 L110.9 170.6 L110.2 171.0 L108.9 171.7 L108.9 171.7 L108.6 171.8 L108.5 171.8 L108.3 171.9 L108.2 172.0 L107.9 172.0 L107.8 172.0 L107.5 172.1 L107.5 172.1 L107.2 172.1 L107.1 172.1 L106.8 172.1 L106.8 172.1 L106.5 172.0 L106.4 172.0 L106.1 171.9 L106.0 171.9 L105.8 171.8 L105.7 171.8 L105.4 171.6 L105.4 171.6 L105.1 171.4 L105.1 171.4 L104.8 171.2 L104.8 171.2 L104.6 171.0 L104.5 170.9 L104.3 170.7 L104.3 170.7 L102.8 168.7 L102.8 168.6 L102.6 168.4 L102.6 168.3 L102.5 168.1 L102.4 168.0 L102.3 167.8 L102.3 167.7 L102.2 167.4 L102.2 167.4 L101.1 163.2 L99.7 160.4 L98.2 158.3 L98.2 158.3 L98.0 158.1 L98.0 158.0 L97.9 157.8 L97.8 157.7 L97.7 157.4 L97.7 157.4 L97.6 157.1 L97.6 157.1 L96.4 152.4 L96.4 152.4 L96.4 152.2 L96.4 152.2 L95.8 149.0ZM127.5 165.2 L127.8 165.1 L127.8 165.1 L128.1 165.0 L128.2 165.0 L128.5 164.9 L128.5 164.9 L128.8 164.9 L128.9 164.9 L129.2 164.9 L129.2 164.9 L130.7 165.0 L130.8 165.0 L131.0 165.0 L131.1 165.0 L131.3 165.1 L131.3 165.1 L132.9 165.5 L134.3 164.7 L136.1 161.3 L136.1 161.3 L136.3 161.0 L136.3 161.0 L138.3 157.9 L139.5 154.3 L139.7 152.3 L138.6 153.6 L138.6 153.6 L138.3 153.9 L138.3 153.9 L138.0 154.1 L138.0 154.1 L135.7 155.9 L135.7 156.0 L135.5 156.1 L135.4 156.2 L135.1 156.3 L135.1 156.3 L134.8 156.4 L134.8 156.5 L134.5 156.6 L134.4 156.6 L134.1 156.6 L134.1 156.7 L133.8 156.7 L133.7 156.7 L133.4 156.7 L133.4 156.7 L133.1 156.7 L133.0 156.7 L132.7 156.6 L132.7 156.6 L132.4 156.5 L132.3 156.5 L132.1 156.4 L132.0 156.4 L131.8 156.2 L131.7 156.2 L131.5 156.1 L131.4 156.0 L131.2 155.8 L131.1 155.8 L130.9 155.6 L130.9 155.6 L130.7 155.3 L130.7 155.3 L129.4 153.7 L129.0 158.1 L129.0 158.1 L129.0 158.2 L129.0 158.2 L128.4 162.8 L128.4 162.8 L128.3 163.1 L128.3 163.2 L128.2 163.5 L128.2 163.6 L127.5 165.2ZM430.3 117.0 L430.4 118.9 L430.6 118.8 L430.6 118.7 L430.8 118.5 L430.9 118.5 L433.8 116.2 L433.8 116.2 L434.0 116.0 L434.1 116.0 L434.3 115.8 L434.4 115.8 L434.6 115.7 L434.7 115.6 L435.0 115.6 L435.0 115.5 L435.3 115.5 L435.4 115.5 L435.7 115.4 L435.7 115.4 L436.0 115.4 L436.1 115.4 L436.4 115.4 L436.4 115.4 L436.7 115.5 L436.8 115.5 L437.0 115.6 L437.1 115.6 L437.4 115.7 L437.4 115.7 L437.7 115.8 L437.7 115.8 L438.0 116.0 L438.0 116.0 L438.3 116.2 L438.3 116.2 L438.5 116.4 L438.5 116.5 L440.1 118.0 L440.8 118.2 L442.7 117.4 L442.7 117.4 L443.0 117.3 L443.1 117.3 L443.3 117.3 L443.4 117.3 L443.7 117.2 L443.7 117.2 L444.0 117.2 L444.1 117.2 L444.4 117.2 L444.4 117.2 L444.7 117.3 L444.7 117.3 L445.0 117.3 L445.1 117.4 L445.3 117.5 L445.4 117.5 L445.6 117.6 L445.7 117.6 L445.9 117.8 L446.0 117.8 L446.2 118.0 L446.2 118.0 L449.1 120.3 L449.2 120.3 L449.4 120.5 L449.4 120.6 L450.4 121.5 L450.8 121.4 L453.2 120.0 L453.2 120.0 L453.5 119.8 L453.6 119.8 L453.9 119.7 L453.9 119.7 L454.2 119.6 L454.3 119.6 L454.6 119.5 L454.7 119.5 L458.7 119.1 L462.4 118.4 L462.4 118.4 L462.7 118.3 L462.7 118.3 L463.0 118.3 L463.1 118.3 L463.4 118.3 L463.4 118.3 L463.7 118.4 L463.8 118.4 L464.1 118.4 L464.1 118.4 L467.9 119.5 L467.9 119.5 L468.2 119.6 L468.2 119.7 L468.5 119.8 L468.5 119.8 L468.8 119.9 L468.8 119.9 L469.0 120.1 L469.0 120.1 L471.1 121.6 L473.9 122.1 L477.6 120.8 L477.6 120.8 L477.9 120.7 L478.0 120.7 L478.3 120.6 L478.4 120.6 L478.7 120.6 L478.7 120.6 L479.0 120.6 L479.1 120.6 L479.4 120.6 L479.4 120.7 L483.2 121.3 L485.1 120.7 L481.3 120.0 L481.3 120.0 L481.0 120.0 L480.9 120.0 L480.6 119.9 L480.6 119.8 L480.3 119.7 L480.3 119.7 L476.5 117.8 L472.7 117.8 L472.7 117.8 L472.4 117.8 L472.3 117.8 L472.1 117.7 L472.0 117.7 L471.7 117.7 L471.7 117.7 L471.4 117.6 L471.4 117.6 L468.9 116.6 L468.3 116.8 L468.3 116.8 L468.0 116.9 L467.9 116.9 L467.6 117.0 L467.6 117.0 L467.3 117.1 L467.2 117.1 L466.9 117.1 L466.8 117.1 L466.5 117.1 L466.5 117.1 L466.2 117.0 L466.2 117.0 L463.1 116.4 L459.9 117.0 L459.9 117.0 L459.6 117.1 L459.5 117.1 L459.3 117.1 L459.2 117.1 L458.9 117.1 L458.8 117.1 L458.6 117.0 L458.5 117.0 L454.4 116.2 L450.9 115.6 L450.9 115.6 L450.6 115.6 L450.5 115.6 L450.2 115.5 L450.2 115.5 L449.9 115.3 L449.9 115.3 L446.6 113.7 L445.5 113.2 L444.2 114.1 L444.2 114.1 L443.9 114.2 L443.9 114.2 L443.6 114.4 L443.6 114.4 L443.3 114.5 L443.2 114.5 L443.0 114.5 L442.9 114.5 L442.6 114.6 L442.6 114.6 L442.3 114.6 L442.2 114.6 L441.9 114.6 L441.9 114.6 L441.6 114.5 L441.6 114.5 L438.7 113.9 L438.6 113.9 L438.4 113.8 L438.3 113.8 L438.0 113.7 L438.0 113.7 L435.5 112.7 L434.4 112.5 L433.5 113.4 L431.3 116.1 L431.3 116.1 L431.1 116.3 L431.0 116.4 L430.8 116.6 L430.7 116.6 L430.3 117.0ZM489.0 120.0 L493.2 120.6 L497.5 121.2 L499.1 121.1 L498.9 120.8 L495.4 118.1 L494.1 117.4 L492.0 118.2 L489.0 120.0Z"/>
<g fill="#154c88" stroke="#0b386c" stroke-width="0.6"><circle cx="87.1" cy="162.4" r="2.95"/><circle cx="85.2" cy="162.6" r="2.95"/><circle cx="85.7" cy="158.0" r="2.95"/><circle cx="89.2" cy="187.2" r="2.95"/><circle cx="89.9" cy="184.4" r="2.95"/><circle cx="91.8" cy="168.3" r="2.95"/><circle cx="89.3" cy="175.6" r="2.95"/><circle cx="88.7" cy="179.4" r="2.95"/><circle cx="89.7" cy="179.9" r="2.95"/><circle cx="88.7" cy="183.3" r="2.95"/><circle cx="90.2" cy="176.5" r="2.95"/><circle cx="91.4" cy="180.2" r="2.95"/><circle cx="94.8" cy="151.5" r="2.95"/><circle cx="90.8" cy="183.7" r="2.95"/><circle cx="91.4" cy="169.0" r="2.95"/><circle cx="94.4" cy="155.2" r="2.95"/><circle cx="95.0" cy="161.4" r="2.95"/><circle cx="96.7" cy="164.3" r="2.95"/><circle cx="98.2" cy="156.9" r="2.95"/><circle cx="94.6" cy="162.6" r="2.95"/><circle cx="95.3" cy="147.8" r="2.95"/><circle cx="97.3" cy="153.3" r="2.95"/><circle cx="94.6" cy="158.9" r="2.95"/><circle cx="98.1" cy="164.5" r="2.95"/><circle cx="96.5" cy="149.7" r="2.95"/><circle cx="99.5" cy="166.5" r="2.95"/><circle cx="98.8" cy="161.7" r="2.95"/><circle cx="100.2" cy="160.0" r="2.95"/><circle cx="101.1" cy="169.8" r="2.95"/><circle cx="101.8" cy="163.3" r="2.95"/><circle cx="102.7" cy="166.9" r="2.95"/><circle cx="101.0" cy="164.3" r="2.95"/><circle cx="104.6" cy="170.1" r="2.95"/><circle cx="104.4" cy="176.5" r="2.95"/><circle cx="102.8" cy="173.1" r="2.95"/><circle cx="102.8" cy="173.1" r="2.95"/><circle cx="106.8" cy="179.1" r="2.95"/><circle cx="106.0" cy="172.0" r="2.95"/><circle cx="107.8" cy="171.4" r="2.95"/><circle cx="109.1" cy="172.5" r="2.95"/><circle cx="105.5" cy="176.5" r="2.95"/><circle cx="110.1" cy="179.3" r="2.95"/><circle cx="109.7" cy="175.9" r="2.95"/><circle cx="111.2" cy="170.0" r="2.95"/><circle cx="110.5" cy="179.9" r="2.95"/><circle cx="113.7" cy="179.6" r="2.95"/><circle cx="114.1" cy="179.7" r="2.95"/><circle cx="113.9" cy="177.1" r="2.95"/><circle cx="115.4" cy="177.0" r="2.95"/><circle cx="114.8" cy="170.8" r="2.95"/><circle cx="113.2" cy="172.4" r="2.95"/><circle cx="116.5" cy="179.3" r="2.95"/><circle cx="116.9" cy="173.6" r="2.95"/><circle cx="117.8" cy="179.0" r="2.95"/><circle cx="118.5" cy="170.5" r="2.95"/><circle cx="121.1" cy="176.9" r="2.95"/><circle cx="119.3" cy="173.0" r="2.95"/><circle cx="122.1" cy="169.8" r="2.95"/><circle cx="123.9" cy="176.4" r="2.95"/><circle cx="122.7" cy="179.9" r="2.95"/><circle cx="122.8" cy="177.0" r="2.95"/><circle cx="121.2" cy="179.6" r="2.95"/><circle cx="124.5" cy="172.8" r="2.95"/><circle cx="125.2" cy="167.8" r="2.95"/><circle cx="127.2" cy="166.1" r="2.95"/><circle cx="125.2" cy="169.2" r="2.95"/><circle cx="128.0" cy="161.2" r="2.95"/><circle cx="124.3" cy="169.4" r="2.95"/><circle cx="124.4" cy="172.3" r="2.95"/><circle cx="130.0" cy="164.7" r="2.95"/><circle cx="127.1" cy="164.7" r="2.95"/><circle cx="130.8" cy="165.6" r="2.95"/><circle cx="128.8" cy="153.8" r="2.95"/><circle cx="128.4" cy="157.5" r="2.95"/><circle cx="130.6" cy="154.3" r="2.95"/><circle cx="134.2" cy="165.4" r="2.95"/><circle cx="130.1" cy="158.9" r="2.95"/><circle cx="133.6" cy="164.3" r="2.95"/><circle cx="130.9" cy="162.1" r="2.95"/><circle cx="135.3" cy="161.0" r="2.95"/><circle cx="136.2" cy="162.4" r="2.95"/><circle cx="133.7" cy="156.1" r="2.95"/><circle cx="133.6" cy="158.3" r="2.95"/><circle cx="139.4" cy="151.6" r="2.95"/><circle cx="136.8" cy="154.3" r="2.95"/><circle cx="138.2" cy="159.2" r="2.95"/><circle cx="139.6" cy="155.8" r="2.95"/><circle cx="138.4" cy="157.9" r="2.95"/><circle cx="138.1" cy="154.3" r="2.95"/><circle cx="140.3" cy="152.2" r="2.95"/><circle cx="141.9" cy="143.0" r="2.95"/><circle cx="141.4" cy="146.7" r="2.95"/><circle cx="142.4" cy="144.4" r="2.95"/><circle cx="145.0" cy="132.3" r="2.95"/><circle cx="142.7" cy="139.4" r="2.95"/><circle cx="143.6" cy="143.8" r="2.95"/><circle cx="143.9" cy="135.8" r="2.95"/><circle cx="144.9" cy="140.2" r="2.95"/><circle cx="145.3" cy="135.5" r="2.95"/><circle cx="147.5" cy="137.9" r="2.95"/><circle cx="148.0" cy="131.1" r="2.95"/><circle cx="145.0" cy="139.8" r="2.95"/><circle cx="149.9" cy="134.2" r="2.95"/><circle cx="147.7" cy="136.6" r="2.95"/><circle cx="148.9" cy="133.8" r="2.95"/><circle cx="151.9" cy="137.4" r="2.95"/><circle cx="153.4" cy="141.9" r="2.95"/><circle cx="150.7" cy="139.6" r="2.95"/><circle cx="153.6" cy="139.3" r="2.95"/><circle cx="155.3" cy="138.2" r="2.95"/><circle cx="156.1" cy="140.5" r="2.95"/><circle cx="160.6" cy="139.5" r="2.95"/><circle cx="159.3" cy="137.4" r="2.95"/><circle cx="157.2" cy="142.1" r="2.95"/><circle cx="160.9" cy="141.7" r="2.95"/><circle cx="158.8" cy="136.8" r="2.95"/><circle cx="162.1" cy="137.2" r="2.95"/><circle cx="164.5" cy="142.3" r="2.95"/><circle cx="162.8" cy="139.6" r="2.95"/><circle cx="162.4" cy="135.6" r="2.95"/><circle cx="165.9" cy="134.7" r="2.95"/><circle cx="166.7" cy="140.1" r="2.95"/><circle cx="169.6" cy="133.8" r="2.95"/><circle cx="167.7" cy="135.7" r="2.95"/><circle cx="169.4" cy="133.8" r="2.95"/><circle cx="169.3" cy="139.5" r="2.95"/><circle cx="172.0" cy="137.1" r="2.95"/><circle cx="167.6" cy="142.9" r="2.95"/><circle cx="171.5" cy="137.1" r="2.95"/><circle cx="174.2" cy="133.3" r="2.95"/><circle cx="172.7" cy="132.1" r="2.95"/><circle cx="175.2" cy="135.3" r="2.95"/><circle cx="176.4" cy="131.4" r="2.95"/><circle cx="178.0" cy="133.4" r="2.95"/><circle cx="179.7" cy="129.8" r="2.95"/><circle cx="178.9" cy="135.5" r="2.95"/><circle cx="181.3" cy="131.8" r="2.95"/><circle cx="184.6" cy="131.1" r="2.95"/><circle cx="181.4" cy="132.8" r="2.95"/><circle cx="181.8" cy="130.6" r="2.95"/><circle cx="182.5" cy="127.4" r="2.95"/><circle cx="185.8" cy="127.4" r="2.95"/><circle cx="188.3" cy="130.7" r="2.95"/><circle cx="189.0" cy="129.7" r="2.95"/><circle cx="184.5" cy="130.2" r="2.95"/><circle cx="189.4" cy="127.8" r="2.95"/><circle cx="192.6" cy="129.5" r="2.95"/><circle cx="191.4" cy="132.4" r="2.95"/><circle cx="192.5" cy="132.0" r="2.95"/><circle cx="198.1" cy="134.1" r="2.95"/><circle cx="194.6" cy="134.3" r="2.95"/><circle cx="196.0" cy="131.1" r="2.95"/><circle cx="196.3" cy="132.4" r="2.95"/><circle cx="198.3" cy="132.4" r="2.95"/><circle cx="201.7" cy="134.2" r="2.95"/><circle cx="199.6" cy="130.6" r="2.95"/><circle cx="205.1" cy="135.7" r="2.95"/><circle cx="202.9" cy="132.1" r="2.95"/><circle cx="206.1" cy="134.0" r="2.95"/><circle cx="208.1" cy="137.9" r="2.95"/><circle cx="209.5" cy="132.5" r="2.95"/><circle cx="207.1" cy="134.1" r="2.95"/><circle cx="210.1" cy="132.7" r="2.95"/><circle cx="210.4" cy="135.6" r="2.95"/><circle cx="213.2" cy="128.8" r="2.95"/><circle cx="214.4" cy="127.0" r="2.95"/><circle cx="212.1" cy="129.9" r="2.95"/><circle cx="212.9" cy="132.9" r="2.95"/><circle cx="215.0" cy="129.8" r="2.95"/><circle cx="217.0" cy="126.7" r="2.95"/><circle cx="216.9" cy="124.2" r="2.95"/><circle cx="216.3" cy="127.0" r="2.95"/><circle cx="224.1" cy="122.4" r="2.95"/><circle cx="220.2" cy="124.9" r="2.95"/><circle cx="220.5" cy="123.4" r="2.95"/><circle cx="223.8" cy="125.2" r="2.95"/><circle cx="227.9" cy="123.2" r="2.95"/><circle cx="224.7" cy="123.2" r="2.95"/><circle cx="227.3" cy="125.5" r="2.95"/><circle cx="231.3" cy="122.3" r="2.95"/><circle cx="227.7" cy="121.6" r="2.95"/><circle cx="231.0" cy="124.6" r="2.95"/><circle cx="234.4" cy="125.9" r="2.95"/><circle cx="234.0" cy="124.8" r="2.95"/><circle cx="237.1" cy="126.8" r="2.95"/><circle cx="345.9" cy="173.9" r="2.95"/><circle cx="347.2" cy="177.8" r="2.95"/><circle cx="351.2" cy="188.9" r="2.95"/><circle cx="349.2" cy="177.2" r="2.95"/><circle cx="349.2" cy="173.2" r="2.95"/><circle cx="352.5" cy="182.4" r="2.95"/><circle cx="349.9" cy="181.1" r="2.95"/><circle cx="354.4" cy="187.6" r="2.95"/><circle cx="352.5" cy="173.9" r="2.95"/><circle cx="351.8" cy="186.3" r="2.95"/><circle cx="358.4" cy="192.2" r="2.95"/><circle cx="356.4" cy="190.3" r="2.95"/><circle cx="359.7" cy="194.8" r="2.95"/><circle cx="360.8" cy="166.6" r="2.95"/><circle cx="361.4" cy="169.3" r="2.95"/><circle cx="360.3" cy="163.4" r="2.95"/><circle cx="359.0" cy="198.1" r="2.95"/><circle cx="363.5" cy="166.1" r="2.95"/><circle cx="365.7" cy="177.4" r="2.95"/><circle cx="365.1" cy="174.7" r="2.95"/><circle cx="362.5" cy="163.9" r="2.95"/><circle cx="365.7" cy="167.1" r="2.95"/><circle cx="366.8" cy="175.8" r="2.95"/><circle cx="364.6" cy="168.8" r="2.95"/><circle cx="368.4" cy="179.5" r="2.95"/><circle cx="370.0" cy="181.1" r="2.95"/><circle cx="373.8" cy="179.0" r="2.95"/><circle cx="374.0" cy="157.8" r="2.95"/><circle cx="372.1" cy="180.1" r="2.95"/><circle cx="374.6" cy="154.7" r="2.95"/><circle cx="375.9" cy="179.0" r="2.95"/><circle cx="374.6" cy="161.2" r="2.95"/><circle cx="377.6" cy="161.4" r="2.95"/><circle cx="378.1" cy="149.8" r="2.95"/><circle cx="378.9" cy="152.3" r="2.95"/><circle cx="378.1" cy="146.9" r="2.95"/><circle cx="380.2" cy="155.2" r="2.95"/><circle cx="377.5" cy="143.8" r="2.95"/><circle cx="381.0" cy="158.4" r="2.95"/><circle cx="385.0" cy="162.4" r="2.95"/><circle cx="382.1" cy="161.3" r="2.95"/><circle cx="385.4" cy="164.0" r="2.95"/><circle cx="383.5" cy="164.3" r="2.95"/><circle cx="389.7" cy="149.9" r="2.95"/><circle cx="387.0" cy="147.2" r="2.95"/><circle cx="391.1" cy="136.4" r="2.95"/><circle cx="391.7" cy="151.2" r="2.95"/><circle cx="392.4" cy="139.8" r="2.95"/><circle cx="393.8" cy="143.2" r="2.95"/><circle cx="397.8" cy="149.9" r="2.95"/><circle cx="395.8" cy="147.2" r="2.95"/><circle cx="401.8" cy="154.6" r="2.95"/><circle cx="403.2" cy="144.5" r="2.95"/><circle cx="404.2" cy="130.0" r="2.95"/><circle cx="399.8" cy="151.9" r="2.95"/><circle cx="404.9" cy="123.8" r="2.95"/><circle cx="401.2" cy="156.0" r="2.95"/><circle cx="404.2" cy="133.1" r="2.95"/><circle cx="404.5" cy="143.2" r="2.95"/><circle cx="404.2" cy="126.9" r="2.95"/><circle cx="407.2" cy="121.5" r="2.95"/><circle cx="411.1" cy="113.8" r="2.95"/><circle cx="410.3" cy="120.8" r="2.95"/><circle cx="414.2" cy="114.6" r="2.95"/><circle cx="412.6" cy="116.9" r="2.95"/><circle cx="416.5" cy="116.9" r="2.95"/><circle cx="418.0" cy="119.2" r="2.95"/><circle cx="414.9" cy="120.0" r="2.95"/><circle cx="420.3" cy="115.4" r="2.95"/><circle cx="421.1" cy="118.5" r="2.95"/><circle cx="423.4" cy="122.3" r="2.95"/><circle cx="426.2" cy="119.5" r="2.95"/><circle cx="424.9" cy="124.2" r="2.95"/><circle cx="428.0" cy="121.5" r="2.95"/><circle cx="430.1" cy="120.1" r="2.95"/><circle cx="432.2" cy="114.0" r="2.95"/><circle cx="429.5" cy="118.5" r="2.95"/><circle cx="431.1" cy="115.4" r="2.95"/><circle cx="429.6" cy="116.7" r="2.95"/><circle cx="430.3" cy="123.1" r="2.95"/><circle cx="432.6" cy="111.5" r="2.95"/><circle cx="434.9" cy="110.8" r="2.95"/><circle cx="435.0" cy="112.0" r="2.95"/><circle cx="435.7" cy="114.6" r="2.95"/><circle cx="432.9" cy="117.6" r="2.95"/><circle cx="439.3" cy="118.0" r="2.95"/><circle cx="438.5" cy="113.3" r="2.95"/><circle cx="434.4" cy="115.5" r="2.95"/><circle cx="436.4" cy="114.7" r="2.95"/><circle cx="436.2" cy="116.0" r="2.95"/><circle cx="437.2" cy="118.5" r="2.95"/><circle cx="441.7" cy="116.0" r="2.95"/><circle cx="442.2" cy="114.0" r="2.95"/><circle cx="442.7" cy="118.1" r="2.95"/><circle cx="443.7" cy="115.7" r="2.95"/><circle cx="445.6" cy="112.6" r="2.95"/><circle cx="446.1" cy="118.7" r="2.95"/><circle cx="449.1" cy="121.0" r="2.95"/><circle cx="449.0" cy="114.2" r="2.95"/><circle cx="449.1" cy="115.2" r="2.95"/><circle cx="454.5" cy="116.5" r="2.95"/><circle cx="455.6" cy="120.0" r="2.95"/><circle cx="452.2" cy="121.3" r="2.95"/><circle cx="456.2" cy="116.0" r="2.95"/><circle cx="452.5" cy="115.3" r="2.95"/><circle cx="452.5" cy="120.4" r="2.95"/><circle cx="454.9" cy="120.0" r="2.95"/><circle cx="459.9" cy="116.4" r="2.95"/><circle cx="459.4" cy="119.6" r="2.95"/><circle cx="463.1" cy="118.9" r="2.95"/><circle cx="463.6" cy="115.9" r="2.95"/><circle cx="466.7" cy="119.8" r="2.95"/><circle cx="467.3" cy="116.5" r="2.95"/><circle cx="469.7" cy="119.6" r="2.95"/><circle cx="467.2" cy="119.5" r="2.95"/><circle cx="470.0" cy="121.5" r="2.95"/><circle cx="473.5" cy="122.6" r="2.95"/><circle cx="470.8" cy="116.7" r="2.95"/><circle cx="473.4" cy="118.3" r="2.95"/><circle cx="474.5" cy="117.2" r="2.95"/><circle cx="478.1" cy="117.9" r="2.95"/><circle cx="478.0" cy="118.8" r="2.95"/><circle cx="477.1" cy="121.6" r="2.95"/><circle cx="481.5" cy="119.5" r="2.95"/><circle cx="483.5" cy="120.3" r="2.95"/><circle cx="480.7" cy="121.5" r="2.95"/><circle cx="485.2" cy="120.1" r="2.95"/><circle cx="484.4" cy="121.6" r="2.95"/><circle cx="488.0" cy="120.5" r="2.95"/><circle cx="492.0" cy="117.6" r="2.95"/><circle cx="488.8" cy="119.4" r="2.95"/><circle cx="491.7" cy="121.0" r="2.95"/><circle cx="495.5" cy="117.4" r="2.95"/><circle cx="491.8" cy="118.8" r="2.95"/><circle cx="493.7" cy="119.7" r="2.95"/><circle cx="498.5" cy="119.7" r="2.95"/><circle cx="495.4" cy="121.5" r="2.95"/><circle cx="499.2" cy="121.7" r="2.95"/></g>
</svg>
</body></html>
